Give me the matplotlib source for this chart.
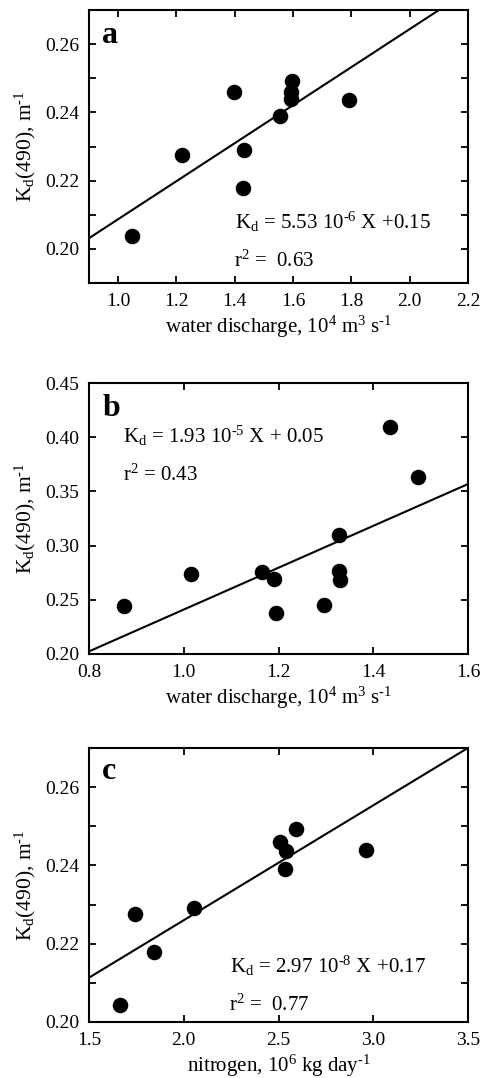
import matplotlib
matplotlib.use("Agg")
import matplotlib.pyplot as plt
from matplotlib.ticker import MultipleLocator

plt.rcParams["font.family"] = ["Liberation Serif", "DejaVu Serif"]
plt.rcParams["mathtext.fontset"] = "custom"
plt.rcParams["mathtext.rm"] = "Liberation Serif"
plt.rcParams["mathtext.it"] = "Liberation Serif:italic"
plt.rcParams["mathtext.bf"] = "Liberation Serif:bold"

# panel a: Kd(490) vs water discharge
a_x = [1.048, 1.219, 1.398, 1.432, 1.429, 1.554, 1.595, 1.592, 1.592, 1.791]
a_y = [0.2039, 0.2274, 0.2460, 0.2289, 0.2178, 0.2390, 0.2492, 0.2459, 0.2438, 0.2437]
a_fit = (0.0557, 0.153)  # slope, intercept (x in 10^4 m3/s)

# panel b: Kd(490) vs water discharge
b_x = [0.873, 1.016, 1.165, 1.190, 1.194, 1.296, 1.328, 1.328, 1.329, 1.436, 1.494]
b_y = [0.2440, 0.2741, 0.2756, 0.2695, 0.2378, 0.2449, 0.3101, 0.2763, 0.2686, 0.4094, 0.3630]
b_fit = (0.193, 0.048)

# panel c: Kd(490) vs nitrogen
c_x = [1.662, 1.741, 1.841, 2.054, 2.510, 2.538, 2.533, 2.591, 2.964]
c_y = [0.2043, 0.2276, 0.2179, 0.2292, 0.2461, 0.2438, 0.2391, 0.2494, 0.2439]
c_fit = (0.02935, 0.1673)

W, H = 480, 1078
fig = plt.figure(figsize=(W / 100, H / 100), dpi=100)


def add_axes(top, bottom, left=89, right=468):
    return fig.add_axes([left / W, 1 - bottom / H, (right - left) / W, (bottom - top) / H])


def panel(ax, xs, ys, fit, xlim, ylim, xstep, ystep, yminor, letter, eq, r2, eq_pos, r2_pos, xlabel):
    ax.scatter(xs, ys, s=125, color="black", zorder=3, linewidths=0)
    slope, icpt = fit
    ax.plot(xlim, [icpt + slope * v for v in xlim], color="black", lw=1.5, zorder=2)
    ax.set_xlim(*xlim)
    ax.set_ylim(*ylim)
    ax.xaxis.set_major_locator(MultipleLocator(xstep))
    ax.yaxis.set_major_locator(MultipleLocator(ystep))
    if yminor:
        ax.yaxis.set_minor_locator(MultipleLocator(yminor))
    ax.xaxis.set_major_formatter(plt.FuncFormatter(lambda v, p: f"{v:.1f}"))
    ax.yaxis.set_major_formatter(plt.FuncFormatter(lambda v, p: f"{v:.2f}"))
    ax.tick_params(which="both", direction="in", top=True, right=True, labelsize=14,
                   labelfontfamily="Liberation Serif", width=1.3, length=5, pad=7, colors="black")
    for sp in ax.spines.values():
        sp.set_linewidth(1.5)
    ax.set_xlabel(xlabel, fontsize=15, labelpad=3)
    ax.set_ylabel(r"K$_\mathrm{d}$(490), m$^{\text{-}1}$", fontsize=15.5, labelpad=5)
    ax.text(0.035, letter[1], letter[0], transform=ax.transAxes, fontsize=23, fontweight="bold")
    ax.text(eq_pos[0], eq_pos[1], eq, transform=ax.transAxes, fontsize=15)
    ax.text(r2_pos[0], r2_pos[1], r2, transform=ax.transAxes, fontsize=15)


ax_a = add_axes(10, 283)
panel(ax_a, a_x, a_y, a_fit, (0.9, 2.2), (0.19, 0.27), 0.2, 0.02, 0.01,
      ("a", 0.88),
      r"K$_\mathrm{d}$ = 5.53 10$^{\text{-}6}$ X +0.15", r"r$^2$ =  0.63",
      (0.385, 0.20), (0.383, 0.06),
      r"water discharge, 10$^4$ m$^3$ s$^{\text{-}1}$")

ax_b = add_axes(383, 654)
panel(ax_b, b_x, b_y, b_fit, (0.8, 1.6), (0.20, 0.45), 0.2, 0.05, None,
      ("b", 0.88),
      r"K$_\mathrm{d}$ = 1.93 10$^{\text{-}5}$ X + 0.05", r"r$^2$ = 0.43",
      (0.09, 0.78), (0.09, 0.64),
      r"water discharge, 10$^4$ m$^3$ s$^{\text{-}1}$")

ax_c = add_axes(748, 1022)
panel(ax_c, c_x, c_y, c_fit, (1.5, 3.5), (0.20, 0.27), 0.5, 0.02, 0.01,
      ("c", 0.887),
      r"K$_\mathrm{d}$ = 2.97 10$^{\text{-}8}$ X +0.17", r"r$^2$ =  0.77",
      (0.372, 0.18), (0.37, 0.04),
      r"nitrogen, 10$^6$ kg day$^{\text{-}1}$")

fig.savefig("out.png", dpi=100)
